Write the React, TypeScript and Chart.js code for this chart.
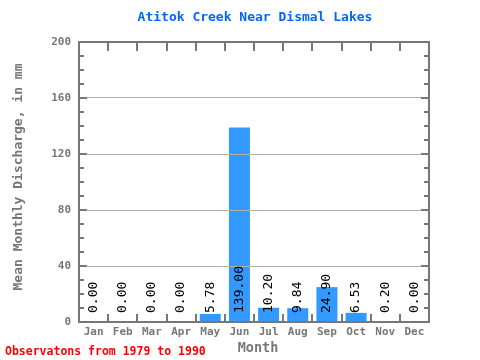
import React, { useEffect, useRef } from "react";
import { Chart, registerables } from "chart.js";

Chart.register(...registerables);

const months = ["Jan", "Feb", "Mar", "Apr", "May", "Jun", "Jul", "Aug", "Sep", "Oct", "Nov", "Dec"];
const discharge = [0, 0, 0, 0, 5.78, 139.0, 10.2, 9.84, 24.9, 6.53, 0.2, 0];
const valueLabels = ["0.00", "0.00", "0.00", "0.00", "5.78", "139.00", "10.20", "9.84", "24.90", "6.53", "0.20", "0.00"];
const yTicks = [0, 40, 80, 120, 160, 200];
const titleText = "Atitok Creek Near Dismal Lakes";
const xTitle = "Month";
const yTitle = "Mean Monthly Discharge, in mm";
const footerText = "Observatons from 1979 to 1990";

const MONO = "'DejaVu Sans Mono', 'Liberation Mono', monospace";
const GRAY = "#777777";

const decorPlugin = {
  id: "decor",
  afterDraw(chart: any) {
    const ctx = chart.ctx;
    const { left, right, top, bottom } = chart.chartArea;
    const xs = chart.scales.x;
    const ys = chart.scales.y;
    ctx.save();

    // value labels
    ctx.fillStyle = "#000000";
    ctx.font = `13px ${MONO}`;
    valueLabels.forEach((lab, i) => {
      const x = xs.getPixelForValue(i);
      const y = ys.getPixelForValue(0) - 9;
      ctx.save();
      ctx.translate(x, y);
      ctx.rotate(-Math.PI / 2);
      ctx.textAlign = "left";
      ctx.textBaseline = "middle";
      ctx.fillText(lab, 0, 0);
      ctx.restore();
    });

    // tick marks
    ctx.strokeStyle = GRAY;
    ctx.lineWidth = 2;
    ctx.beginPath();
    for (let v = 10; v < 200; v += 10) {
      const y = Math.round(ys.getPixelForValue(v));
      const len = v % 40 === 0 ? 8 : 5;
      ctx.moveTo(left, y);
      ctx.lineTo(left + len, y);
      ctx.moveTo(right, y);
      ctx.lineTo(right - len, y);
    }
    const step = (right - left) / months.length;
    for (let i = 1; i < months.length; i++) {
      const x = Math.round(left + i * step);
      ctx.moveTo(x, top);
      ctx.lineTo(x, top + 9);
      ctx.moveTo(x, bottom);
      ctx.lineTo(x, bottom - 8);
    }
    ctx.stroke();

    // border
    ctx.strokeRect(left, top, right - left, bottom - top);

    // title
    ctx.fillStyle = "#0066ff";
    ctx.font = `bold 13px ${MONO}`;
    ctx.textAlign = "center";
    ctx.textBaseline = "middle";
    ctx.fillText(titleText, 255, 18);

    // x title
    ctx.fillStyle = GRAY;
    ctx.font = `bold 13.5px ${MONO}`;
    ctx.fillText(xTitle, 258, 348);

    // y title
    ctx.save();
    ctx.translate(19, 177);
    ctx.rotate(-Math.PI / 2);
    ctx.font = `bold 13px ${MONO}`;
    ctx.fillText(yTitle, 0, 0);
    ctx.restore();

    // footer
    ctx.fillStyle = "#ff0000";
    ctx.font = `bold 11.5px ${MONO}`;
    ctx.textAlign = "left";
    ctx.fillText(footerText, 5, 352);

    ctx.restore();
  },
};

export default function App() {
  const ref = useRef<HTMLCanvasElement | null>(null);
  useEffect(() => {
    if (!ref.current) return;
    const chart = new Chart(ref.current, {
      type: "bar",
      data: {
        labels: months,
        datasets: [
          {
            data: discharge,
            backgroundColor: "#3399ff",
            borderWidth: 0,
            categoryPercentage: 1,
            barPercentage: 0.72,
          },
        ],
      },
      options: {
        animation: false,
        responsive: false,
        maintainAspectRatio: false,
        layout: { padding: { left: 0, right: 51, top: 42, bottom: 0 } },
        plugins: { legend: { display: false }, title: { display: false }, tooltip: { enabled: false } },
        scales: {
          x: {
            grid: { display: false, drawTicks: false },
            border: { display: false },
            ticks: { color: GRAY, font: { family: MONO, size: 11, weight: "bold" }, padding: 4, maxRotation: 0 },
            afterFit: (s: any) => {
              s.height = 38;
            },
          },
          y: {
            min: 0,
            max: 200,
            afterBuildTicks: (s: any) => {
              s.ticks = yTicks.map((v) => ({ value: v }));
            },
            grid: { color: "#b0b0b0", lineWidth: 1, drawTicks: false, z: 1 },
            border: { display: false },
            ticks: { color: GRAY, font: { family: MONO, size: 11, weight: "bold" }, padding: 8 },
            afterFit: (s: any) => {
              s.width = 79;
            },
          },
        },
      },
      plugins: [decorPlugin],
    });
    return () => chart.destroy();
  }, []);
  return (
    <div style={{ position: "absolute", left: 0, top: 0, width: 480, height: 360, background: "#fff" }}>
      <canvas ref={ref} width={480} height={360} style={{ width: 480, height: 360 }} />
    </div>
  );
}
